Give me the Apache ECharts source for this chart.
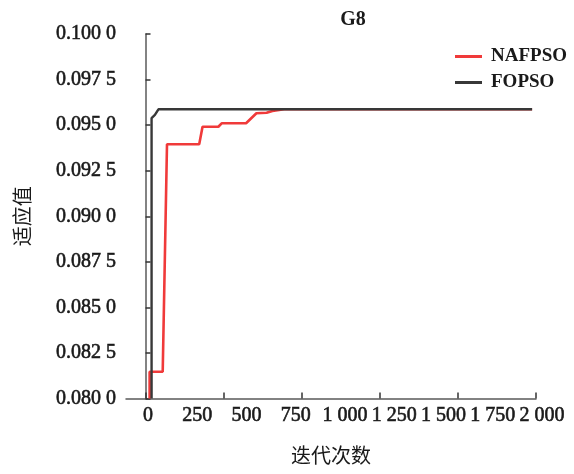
<!DOCTYPE html>
<html>
<head>
<meta charset="utf-8">
<script src="https://cdn.jsdelivr.net/npm/echarts@6/dist/echarts.min.js"></script>
<style>html,body{margin:0;padding:0;background:#fff;}#c{width:574px;height:474px;}</style>
</head>
<body>
<div id="c"></div>
<script>
// ---- data ----
const chartTitle = 'G8';
const seriesNames = ['NAFPSO', 'FOPSO'];
const nafpsoIter = [21, 21, 88, 110, 275, 292, 373, 390, 515, 568, 620, 650, 710, 1980];
const nafpsoFit  = [0.0800, 0.08147, 0.08147, 0.09395, 0.09395, 0.09491, 0.09491, 0.09510, 0.09510, 0.09565, 0.09568, 0.09578, 0.09587, 0.09587];
const fopsoIter = [31, 31, 48, 66, 1980];
const fopsoFit  = [0.0800, 0.09538, 0.09556, 0.09587, 0.09587];
const xTickValues = [0, 400, 800, 1200, 1600, 2000];
const xLabelValues = [0, 250, 500, 750, 1000, 1250, 1500, 1750, 2000];
const xLabelTexts = ['0', '250', '500', '750', '1 000', '1 250', '1 500', '1 750', '2 000'];
const yMin = 0.0800, yMax = 0.1000, yStep = 0.0025;
const xName = '迭代次数';
const yName = '适应值';

const zip = (a, b) => a.map((v, i) => [v, b[i]]);
const serif = '"Liberation Serif", "Times New Roman", serif';
const cjk = '"Noto Sans CJK SC", sans-serif';
const axisColor = '#5a5a5a';
const textColor = '#1a1a1a';
const labelThick = {textBorderColor: textColor, textBorderWidth: 0.6};

const chart = echarts.init(document.getElementById('c'), null, {renderer: 'canvas'});
chart.setOption({
  backgroundColor: '#fff',
  animation: false,
  title: {
    text: chartTitle, left: 348, top: 5, textAlign: 'center',
    textStyle: {fontFamily: serif, fontSize: 20, fontWeight: 'bold', color: textColor}
  },
  legend: {
    orient: 'vertical', left: 450, top: 42, itemGap: 7,
    icon: 'rect', itemWidth: 27, itemHeight: 3,
    data: seriesNames,
    textStyle: {fontFamily: serif, fontSize: 19, fontWeight: 'bold', color: textColor, padding: [0, 0, 0, 4]}
  },
  grid: [
    {left: 126, right: 38, top: 34, bottom: 75.5},
    {left: 148, right: 32, top: 34, bottom: 75.5}
  ],
  xAxis: [
    {
      type: 'value', gridIndex: 0, min: -100, max: 2000,
      name: xName, nameLocation: 'middle', nameGap: 47,
      nameTextStyle: Object.assign({fontFamily: cjk, fontSize: 20, color: textColor}),
      axisLine: {show: true, lineStyle: {color: axisColor, width: 1.5}},
      axisTick: {show: true, inside: true, length: 6, customValues: xTickValues, lineStyle: {color: '#333', width: 1.5}},
      axisLabel: {show: false},
      splitLine: {show: false}
    },
    {
      type: 'value', gridIndex: 1, min: 0, max: 2000, interval: 250,
      axisLine: {show: false}, axisTick: {show: false}, splitLine: {show: false},
      axisLabel: Object.assign({
        show: true, margin: 7, color: textColor, fontFamily: serif, fontSize: 20,
        formatter: v => { const i = xLabelValues.indexOf(v); return i >= 0 ? xLabelTexts[i] : ''; }
      }, labelThick)
    }
  ],
  yAxis: [
    {
      type: 'value', gridIndex: 0, min: yMin, max: yMax, interval: yStep,
      name: yName, nameLocation: 'middle', nameGap: 94, nameRotate: 90,
      nameTextStyle: {fontFamily: cjk, fontSize: 20, color: textColor},
      axisLine: {show: true, lineStyle: {color: axisColor, width: 1.5}},
      axisTick: {show: true, inside: true, length: 5, lineStyle: {color: '#333', width: 1.5}},
      axisLabel: Object.assign({
        margin: 10, color: textColor, fontFamily: serif, fontSize: 20,
        formatter: v => { const s = v.toFixed(4); return s.slice(0, 5) + ' ' + s.slice(5); }
      }, labelThick),
      splitLine: {show: false}
    },
    {type: 'value', gridIndex: 1, min: 0, max: 1, show: false}
  ],
  series: [
    {
      name: seriesNames[0], type: 'line', xAxisIndex: 0, yAxisIndex: 0,
      data: zip(nafpsoIter, nafpsoFit), showSymbol: false, symbol: 'none', clip: true,
      lineStyle: {color: '#f03a3a', width: 2.6}, itemStyle: {color: '#f03a3a'}
    },
    {
      name: seriesNames[1], type: 'line', xAxisIndex: 0, yAxisIndex: 0,
      data: zip(fopsoIter, fopsoFit), showSymbol: false, symbol: 'none', clip: true,
      lineStyle: {color: '#383838', width: 2.4}, itemStyle: {color: '#383838'}
    }
  ]
});
</script>
</body>
</html>
